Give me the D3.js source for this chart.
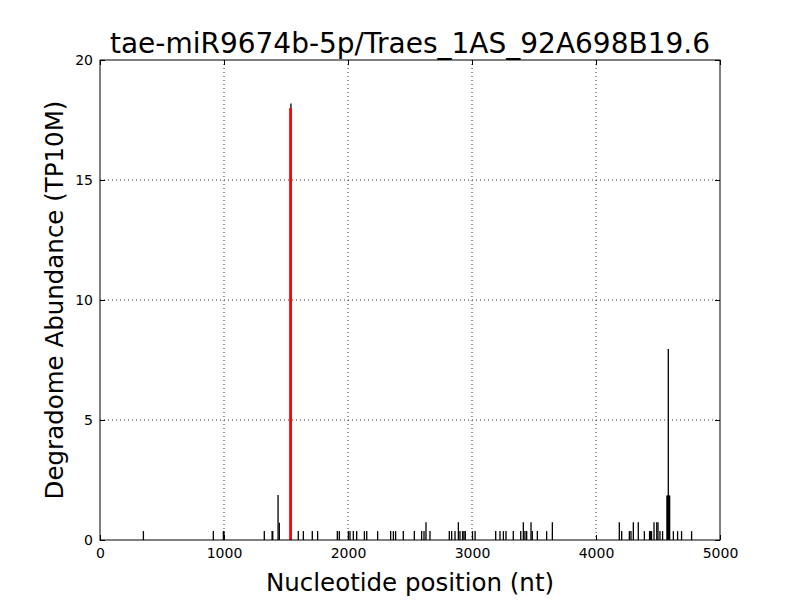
<!DOCTYPE html>
<html>
<head>
<meta charset="utf-8">
<script src="https://cdn.jsdelivr.net/npm/d3@7"></script>
<style>
  body { margin: 0; background: #fff; }
  text { font-family: "DejaVu Sans", sans-serif; }
</style>
</head>
<body>
<div id="chart"></div>
<script>
// degradome reads: position (nt) and abundance (TP10M)
var positions = [350, 914, 995, 1000, 1325, 1388, 1393, 1436, 1446, 1540, 1599, 1640,
  1712, 1755, 1914, 1930, 2003, 2016, 2043, 2070, 2132, 2151, 2239, 2344, 2366, 2384,
  2446, 2535, 2594, 2613, 2629, 2661, 2817, 2836, 2863, 2890, 2903, 2924, 2935, 2946,
  3004, 3025, 3191, 3226, 3253, 3274, 3333, 3393, 3414, 3427, 3441, 3476, 3486, 3527,
  3602, 3648, 4188, 4207, 4269, 4282, 4301, 4341, 4390, 4432, 4440, 4448, 4468, 4490,
  4500, 4516, 4537, 4572, 4578, 4583, 4588, 4594, 4624, 4658, 4690, 4771];
var abundance = [0.37, 0.37, 0.37, 0.37, 0.37, 0.37, 0.37, 1.87, 0.72, 18.19, 0.37, 0.37,
  0.37, 0.37, 0.37, 0.37, 0.37, 0.37, 0.37, 0.37, 0.37, 0.37, 0.37, 0.37, 0.37, 0.37,
  0.37, 0.37, 0.37, 0.37, 0.74, 0.37, 0.37, 0.37, 0.37, 0.74, 0.37, 0.37, 0.37, 0.37,
  0.37, 0.37, 0.37, 0.37, 0.37, 0.37, 0.37, 0.37, 0.74, 0.37, 0.37, 0.74, 0.37, 0.37,
  0.37, 0.74, 0.74, 0.37, 0.37, 0.37, 0.74, 0.74, 0.37, 0.37, 0.37, 0.37, 0.74, 0.74,
  0.74, 0.37, 0.37, 1.85, 1.85, 7.96, 1.85, 1.85, 0.37, 0.37, 0.37, 0.37];
// predicted cleavage site (red)
var sitePos = [1536];
var siteVal = [18.0];

var xTicks = [0, 1000, 2000, 3000, 4000, 5000];
var yTicks = [0, 5, 10, 15, 20];
var title = "tae-miR9674b-5p/Traes_1AS_92A698B19.6";

var margin = {top: 60, right: 80, bottom: 60, left: 100};
var W = 800, H = 600;
var width = W - margin.left - margin.right;
var height = H - margin.top - margin.bottom;

var svg = d3.select("#chart").append("svg").attr("width", W).attr("height", H);
var g = svg.append("g").attr("transform", "translate(" + margin.left + "," + margin.top + ")");

var x = d3.scaleLinear().domain([0, 5000]).range([0, width]);
var y = d3.scaleLinear().domain([0, 20]).range([height, 0]);

// dotted grid
g.selectAll(".gx").data(xTicks.slice(1, -1)).enter().append("line")
  .attr("x1", d => x(d)).attr("x2", d => x(d)).attr("y1", 0).attr("y2", height)
  .attr("stroke", "#000").attr("stroke-width", 0.8).attr("stroke-dasharray", "1,3");
g.selectAll(".gy").data(yTicks.slice(1, -1)).enter().append("line")
  .attr("x1", 0).attr("x2", width).attr("y1", d => y(d)).attr("y2", d => y(d))
  .attr("stroke", "#000").attr("stroke-width", 0.8).attr("stroke-dasharray", "1,3");

var data = positions.map((p, i) => ({pos: p, val: abundance[i]}));
g.selectAll(".bar").data(data).enter().append("line")
  .attr("x1", d => x(d.pos)).attr("x2", d => x(d.pos))
  .attr("y1", y(0)).attr("y2", d => y(d.val))
  .attr("stroke", "#000").attr("stroke-width", 1.3);

g.selectAll(".site").data(sitePos.map((p, i) => ({pos: p, val: siteVal[i]}))).enter().append("line")
  .attr("x1", d => x(d.pos)).attr("x2", d => x(d.pos))
  .attr("y1", y(0)).attr("y2", d => y(d.val))
  .attr("stroke", "#ff0000").attr("stroke-width", 2.6);

// axes, ticks pointing inward
var fmt = d3.format("d");
var ax = d3.axisBottom(x).tickValues(xTicks).tickSize(-5).tickPadding(8).tickFormat(fmt);
var axTop = d3.axisTop(x).tickValues(xTicks).tickSize(-5).tickFormat("");
var ay = d3.axisLeft(y).tickValues(yTicks).tickSize(-5).tickPadding(7).tickFormat(fmt);
var ayR = d3.axisRight(y).tickValues(yTicks).tickSize(-5).tickFormat("");

function style(sel) {
  sel.select(".domain").remove();
  sel.selectAll("line").attr("stroke", "#000");
  sel.selectAll("text").attr("font-size", "14px").attr("fill", "#000")
    .style("font-family", "DejaVu Sans");
}
g.append("g").attr("transform", "translate(0," + height + ")").call(ax).call(style);
g.append("g").call(axTop).call(style);
g.append("g").call(ay).call(style);
g.append("g").attr("transform", "translate(" + width + ",0)").call(ayR).call(style);

g.append("rect").attr("width", width).attr("height", height)
  .attr("fill", "none").attr("stroke", "#000").attr("stroke-width", 1);

svg.append("text").attr("x", margin.left + width / 2).attr("y", 53)
  .attr("text-anchor", "middle").attr("font-size", "28px").text(title);
svg.append("text").attr("x", margin.left + width / 2).attr("y", 591)
  .attr("text-anchor", "middle").attr("font-size", "24.5px").text("Nucleotide position (nt)");
svg.append("text").attr("transform", "translate(63," + (margin.top + height / 2) + ") rotate(-90)")
  .attr("text-anchor", "middle").attr("font-size", "24.5px").text("Degradome Abundance (TP10M)");
</script>
</body>
</html>
